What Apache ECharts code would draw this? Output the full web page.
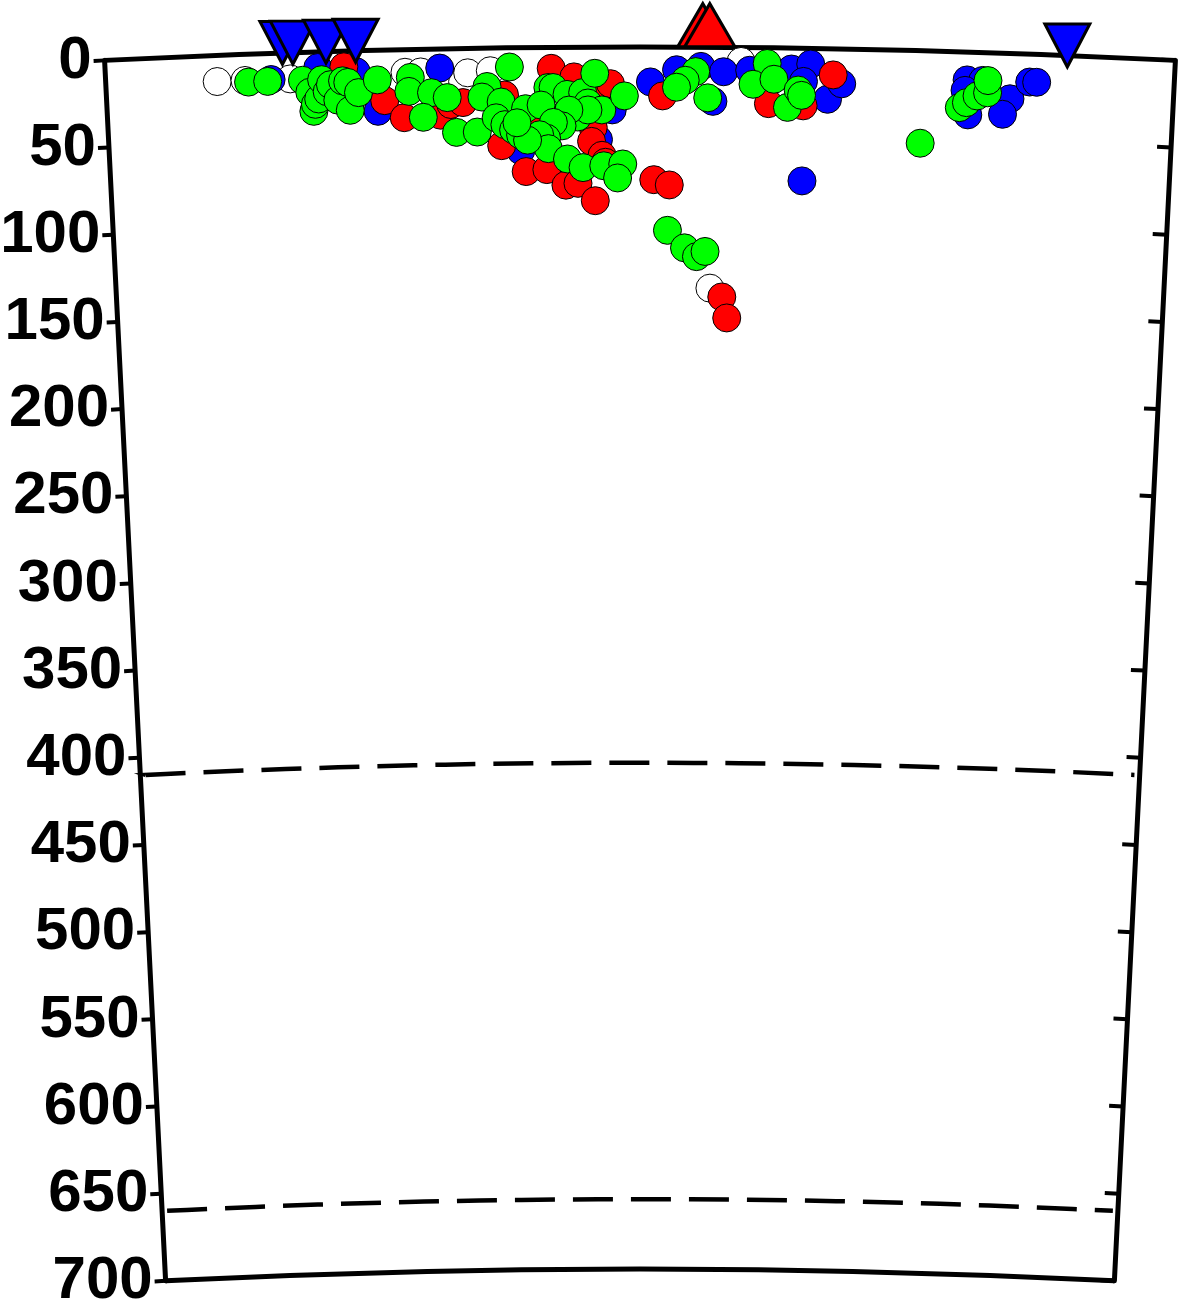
<!DOCTYPE html>
<html>
<head>
<meta charset="utf-8">
<script src="https://cdn.jsdelivr.net/npm/echarts@6/dist/echarts.min.js"></script>
<style>
html,body{margin:0;padding:0;background:#fff;}
#chart{width:1182px;height:1307px;}
</style>
</head>
<body>
<div id="chart"></div>
<script>
// Profile distance along the surface (km) and depth (km)
const depthTicks = [0,50,100,150,200,250,300,350,400,450,500,550,600,650,700];
const discontinuities = [410, 660];
const profileLength = 614;

// [distance, depth]
const whiteQuakes = [[64,15],[80,15],[106,15],[172,13],[181,13],[205,19],[208,14],[221,13],[348,138],[365,8]];
const blueQuakes = [[95,15],[122,9],[144,12],[156,35],[192,11],[238,59],[283,53],[291,36],[313,20],[328,13],[342,11],[349,31],[355,14],[370,13],[394,12],[405,9],[401,19],[415,29],[423,20],[401,76],[495,16],[504,16],[494,22],[520,26],[516,35],[496,36],[531,16],[535,16]];
const redQuakes = [[137,9],[160,29],[171,39],[192,38],[198,32],[205,31],[229,27],[227,56],[256,12],[269,17],[250,40],[280,46],[279,54],[288,25],[290,21],[285,62],[287,66],[241,71],[253,70],[264,79],[271,78],[281,88],[315,76],[324,79],[355,143],[358,155],[320,28],[381,32],[401,33],[418,15]];
const greenQuakes = [[82,16],[93,16],[113,16],[117,23],[119,34],[120,30],[122,27],[124,16],[127,23],[129,19],[133,28],[136,17],[139,18],[140,34],[145,24],[156,17],[175,16],[174,24],[187,25],[196,28],[182,39],[232,11],[219,22],[216,28],[227,31],[241,35],[201,48],[213,48],[224,40],[229,44],[234,47],[238,50],[254,23],[257,23],[265,27],[274,26],[277,32],[285,36],[281,15],[298,28],[271,40],[263,39],[277,36],[266,36],[262,45],[250,33],[257,43],[253,52],[249,50],[254,58],[265,64],[274,69],[286,68],[297,67],[294,75],[242,53],[236,43],[339,14],[333,19],[328,23],[346,29],[380,9],[372,21],[384,18],[392,34],[398,24],[400,27],[469,53],[323,105],[333,115],[340,120],[345,117],[491,32],[495,29],[501,25],[507,23],[507,16]];
const stations = [102,108,127,144,552];   // blue inverted triangles (distance)
const volcanoes = [343,347];              // red triangles (distance)

const toPolar = arr => arr.map(p => [p[1], p[0]]);

const CX = 640, CY = 10770, R_IN = 9501, R_OUT = 10723;
const A0 = 92.862, A1 = 87.138;

const outline = depthTicks.map((d,i) => (i===0 || i===depthTicks.length-1) ? '#000' : 'rgba(0,0,0,0)');
const nTen = 71;
const dashColors = [];
for (let i = 0; i < nTen; i++) dashColors.push(discontinuities.indexOf(i*10) >= 0 ? '#000' : 'rgba(0,0,0,0)');

const chart = echarts.init(document.getElementById('chart'), null, {renderer:'canvas'});
const hidden = {axisLine:{show:false},axisTick:{show:false},axisLabel:{show:false},splitLine:{show:false}};
const circle = (color) => ({symbol:'circle', symbolSize:28, itemStyle:{color, opacity:1, borderColor:'#000', borderWidth:1}});

chart.setOption({
  animation:false,
  backgroundColor:'#fff',
  polar:[
    {center:[CX,CY], radius:[R_IN,R_OUT]},
    {center:[CX,CY], radius:[R_IN,R_OUT]},
    {center:[CX,CY], radius:[R_IN,R_OUT]}
  ],
  angleAxis:[
    Object.assign({polarIndex:0, type:'value', min:0, max:profileLength, startAngle:A0, endAngle:A1}, hidden),
    Object.assign({polarIndex:1, type:'value', min:0, max:100, startAngle:A1, endAngle:A1-5}, hidden),
    Object.assign({polarIndex:2, type:'value', min:0, max:profileLength, startAngle:A0-0.03, endAngle:A1+0.03}, hidden)
  ],
  radiusAxis:[
    {polarIndex:0, type:'value', min:0, max:700, interval:50, inverse:true,
     axisLine:{show:true, lineStyle:{color:'#000', width:5}},
     axisTick:{show:true, length:11, lineStyle:{color:'#000', width:4}},
     axisLabel:{show:true, interval:0, margin:13, color:'#000', fontSize:60, fontWeight:'bold',
                fontFamily:'Liberation Sans, Arial, sans-serif', padding:[12,0,0,0]},
     splitLine:{show:true, lineStyle:{color:outline, width:5}}},
    {polarIndex:1, type:'value', min:0, max:700, interval:50, inverse:true,
     axisLine:{show:true, lineStyle:{color:'#000', width:5}},
     axisTick:{show:true, inside:true, length:14, lineStyle:{color:'#000', width:4}},
     axisLabel:{show:false}, splitLine:{show:false}},
    {polarIndex:2, type:'value', min:0, max:700, interval:10, inverse:true,
     axisLine:{show:false}, axisTick:{show:false}, axisLabel:{show:false},
     splitLine:{show:true, lineStyle:{color:dashColors, width:4.5, type:[40,18]}}}
  ],
  series:[
    Object.assign({type:'scatter', coordinateSystem:'polar', polarIndex:0, data:toPolar(whiteQuakes)}, circle('#ffffff')),
    Object.assign({type:'scatter', coordinateSystem:'polar', polarIndex:0, data:toPolar(blueQuakes)}, circle('#0000ff')),
    Object.assign({type:'scatter', coordinateSystem:'polar', polarIndex:0, data:toPolar(redQuakes)}, circle('#ff0000')),
    Object.assign({type:'scatter', coordinateSystem:'polar', polarIndex:0, data:toPolar(greenQuakes)}, circle('#00ff00')),
    {type:'scatter', coordinateSystem:'polar', polarIndex:0, data:volcanoes.map(d=>[0,d]),
     symbol:'triangle', symbolSize:[50,43], symbolOffset:[0,-22],
     itemStyle:{color:'#ff0000', opacity:1, borderColor:'#000', borderWidth:3}},
    {type:'scatter', coordinateSystem:'polar', polarIndex:0, data:stations.map(d=>[0,d]),
     symbol:'triangle', symbolSize:[45,43], symbolRotate:180, symbolOffset:[0,-10],
     itemStyle:{color:'#0000ff', opacity:1, borderColor:'#000', borderWidth:3}}
  ]
});
</script>
</body>
</html>
